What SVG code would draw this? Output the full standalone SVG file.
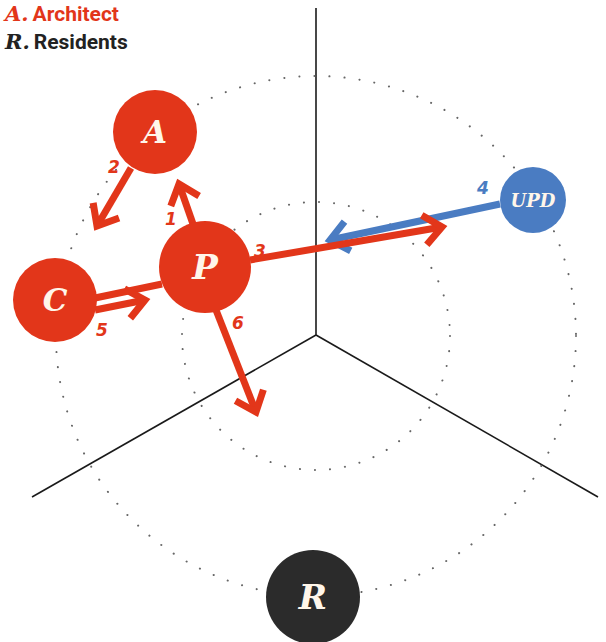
<svg xmlns="http://www.w3.org/2000/svg" width="606" height="642" viewBox="0 0 606 642">
<style>
.axis{stroke:#1a1a1a;stroke-width:1.6;fill:none}
.orbit{stroke:#666;stroke-width:2;fill:none;stroke-dasharray:0.1 15;stroke-linecap:round}
.red{stroke:#e2361a;stroke-width:7;fill:none}
.blue{stroke:#4a7cc2;stroke-width:7;fill:none}
.lab{font-family:"DejaVu Sans","Liberation Sans",sans-serif;font-style:italic;font-weight:bold;font-size:17px}
.nodet{font-family:"DejaVu Serif","Liberation Serif",serif;font-weight:bold;font-style:italic;fill:#fff6ea;text-anchor:middle}
</style>
<defs>
<marker id="hr" markerUnits="userSpaceOnUse" markerWidth="40" markerHeight="40" refX="0" refY="0" viewBox="-30 -20 40 40" orient="auto" overflow="visible">
<path d="M-18,-15 L0,0 L-18,15" stroke="#e2361a" stroke-width="7" fill="none"/>
</marker>
<marker id="hb" markerUnits="userSpaceOnUse" markerWidth="40" markerHeight="40" refX="0" refY="0" viewBox="-30 -20 40 40" orient="auto" overflow="visible">
<path d="M-18,-15 L0,0 L-18,15" stroke="#4a7cc2" stroke-width="7" fill="none"/>
</marker>
</defs>
<g id="axes">
<line class="axis" x1="316" y1="8" x2="316" y2="335"/>
<line class="axis" x1="316" y1="335" x2="32" y2="497"/>
<line class="axis" x1="316" y1="335" x2="598" y2="497"/>
<circle class="orbit" cx="316" cy="336" r="260"/>
<circle class="orbit" cx="316" cy="336" r="134"/>
</g>
<g id="legend" font-size="21" font-weight="bold">
<text x="5" y="21" fill="#e2361a"><tspan font-family="DejaVu Serif,serif" font-style="italic">A.</tspan><tspan font-family="Roboto,'Liberation Sans',sans-serif" dx="4">Architect</tspan></text>
<text x="5" y="49" fill="#222"><tspan font-family="DejaVu Serif,serif" font-style="italic">R.</tspan><tspan font-family="Roboto,'Liberation Sans',sans-serif" dx="4">Residents</tspan></text>
</g>
<g id="connectors">
<line class="blue" x1="500" y1="204" x2="330" y2="240" marker-end="url(#hb)"/>
<line class="red" x1="250" y1="260" x2="442" y2="227" marker-end="url(#hr)"/>
<line class="red" x1="193" y1="224" x2="179" y2="184" marker-end="url(#hr)"/>
<line class="red" x1="131" y1="168" x2="97" y2="226" marker-end="url(#hr)"/>
<line class="red" x1="95" y1="298" x2="162" y2="284"/>
<line class="red" x1="95" y1="310" x2="145" y2="300" marker-end="url(#hr)"/>
<line class="red" x1="216" y1="310" x2="256" y2="412" marker-end="url(#hr)"/>
<text class="lab" x="165" y="225" fill="#e2361a">1</text>
<text class="lab" x="108" y="173" fill="#e2361a">2</text>
<text class="lab" x="254" y="257" fill="#e2361a">3</text>
<text class="lab" x="477" y="194" fill="#4a7cc2">4</text>
<text class="lab" x="96" y="336" fill="#e2361a">5</text>
<text class="lab" x="232" y="329" fill="#e2361a">6</text>
</g>
<g id="node-A">
<circle cx="155" cy="132" r="42" fill="#e2361a"/>
<text class="nodet" x="155" y="143" font-size="31">A</text>
</g>
<g id="node-P">
<circle cx="205" cy="267" r="46" fill="#e2361a"/>
<text class="nodet" x="205" y="279" font-size="34">P</text>
</g>
<g id="node-C">
<circle cx="55" cy="300" r="42" fill="#e2361a"/>
<text class="nodet" x="55" y="311" font-size="31">C</text>
</g>
<g id="node-UPD">
<circle cx="533" cy="200" r="33" fill="#4a7cc2"/>
<text class="nodet" x="533" y="207" font-size="18">UPD</text>
</g>
<g id="node-R">
<circle cx="313" cy="597" r="47" fill="#2b2b2b"/>
<text class="nodet" x="313" y="609" font-size="34">R</text>
</g>
</svg>
